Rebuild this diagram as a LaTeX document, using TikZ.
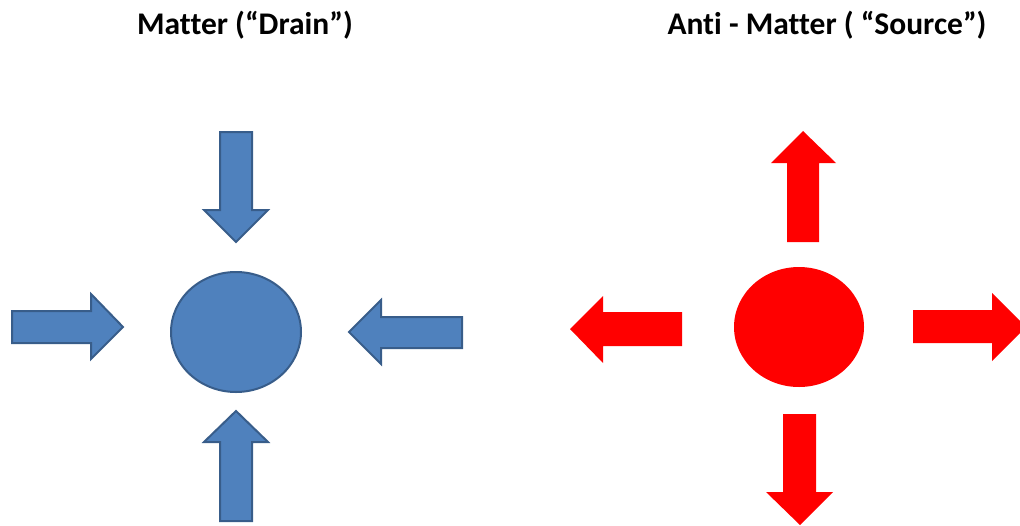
\documentclass[tikz,border=0pt]{standalone}
\usepackage{fontspec}
\setmainfont[Ligatures=NoCommon]{Carlito}
\usetikzlibrary{shapes.geometric}
\definecolor{bluefill}{HTML}{4F81BD}
\definecolor{blueline}{HTML}{385D8A}
\definecolor{redfill}{HTML}{FF0000}
\tikzset{
  bluearrow/.style={fill=bluefill,draw=blueline,line width=2pt,line join=miter},
  redarrow/.style={fill=redfill,draw=none},
  title/.style={font=\bfseries\fontsize{31.5}{36}\selectfont,anchor=base,inner sep=0pt},
}
\begin{document}
\begin{tikzpicture}[x=1pt,y=-1pt]
\useasboundingbox (0,0) rectangle (1020,525);
% titles
\node[title] (t1) at (245,34) {Matter (“Drain”)};
\node[title] (t2) at (827,34) {Anti - Matter ( “Source”)};
% matter (drain)
\node[ellipse,fill=bluefill,draw=blueline,line width=2pt,minimum width=130pt,minimum height=120pt,inner sep=0pt] (drain) at (236,332) {};
% top arrow pointing down
\draw[bluearrow] (220,132) -- (252,132) -- (252,210) -- (268,210) -- (236,242) -- (204,210) -- (220,210) -- cycle;
% left arrow pointing right
\draw[bluearrow] (12,311) -- (91,311) -- (91,294) -- (123,327) -- (91,359) -- (91,343) -- (12,343) -- cycle;
% right arrow pointing left
\draw[bluearrow] (462,317) -- (381,317) -- (381,300) -- (349,332) -- (381,364) -- (381,348) -- (462,348) -- cycle;
% bottom arrow pointing up
\draw[bluearrow] (220,521) -- (220,442) -- (204,442) -- (236,411) -- (268,442) -- (252,442) -- (252,521) -- cycle;
% anti-matter (source)
\node[ellipse,fill=redfill,draw=none,minimum width=130pt,minimum height=120pt,inner sep=0pt] (source) at (799,327) {};
% top arrow pointing up
\fill[redarrow] (787,242) -- (787,163) -- (771,163) -- (803,131) -- (836,163) -- (819,163) -- (819,242) -- cycle;
% left arrow pointing left
\fill[redarrow] (682,312) -- (603,312) -- (603,296) -- (570,329) -- (603,363) -- (603,346) -- (682,346) -- cycle;
% right arrow pointing right
\fill[redarrow] (913,310) -- (992,310) -- (992,293) -- (1026,327) -- (992,361) -- (992,343) -- (913,343) -- cycle;
% bottom arrow pointing down
\fill[redarrow] (783,414) -- (816,414) -- (816,492) -- (833,492) -- (800,525) -- (766,492) -- (783,492) -- cycle;
\end{tikzpicture}
\end{document}
